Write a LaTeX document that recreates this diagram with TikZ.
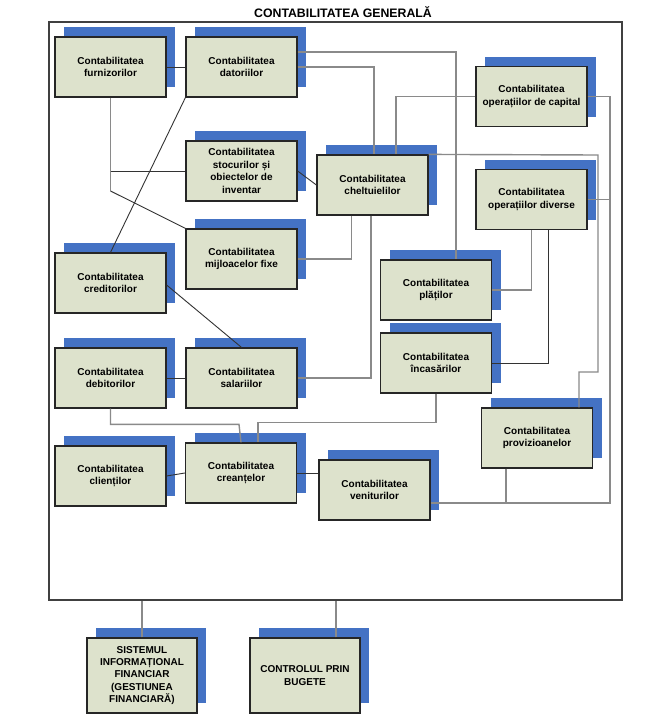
\documentclass[tikz,border=0pt]{standalone}
\usepackage{fontspec}
\setmainfont{Liberation Sans}
\usetikzlibrary{shadows,calc}
\definecolor{boxfill}{HTML}{DDE2CC}
\definecolor{shblue}{HTML}{4472C4}
\definecolor{dkline}{HTML}{333333}
\definecolor{gyline}{HTML}{8A8A8A}
\begin{document}
\begin{tikzpicture}[x=1pt,y=-1pt,
  cbox/.style={draw=black!85,line width=1.2pt,fill=boxfill,
    minimum width=111pt,minimum height=60pt,inner sep=1pt,align=center,
    font=\fontsize{10}{12.4}\selectfont\bfseries,
    drop shadow={shadow xshift=9pt,shadow yshift=10pt,fill=shblue,opacity=1}},
  bbox/.style={cbox,minimum width=110pt,minimum height=75pt},
  dk/.style={draw=dkline,line width=0.9pt},
  gy/.style={draw=gyline,line width=1.4pt},
  frm/.style={draw=black!75,line width=1.2pt,minimum width=573pt,minimum height=578pt,inner sep=0pt}
]
\useasboundingbox (0,0) rectangle (660,718);
\fill[white] (0,0) rectangle (660,718);

\node[font=\fontsize{12.3}{14}\selectfont\bfseries] (title) at (343,12) {CONTABILITATEA GENERALĂ};
\node[frm] (frame) at (335.5,311) {};

\node[cbox] (furn) at (110.5,67) {Contabilitatea\\furnizorilor};
\node[cbox] (dator) at (241.5,67) {Contabilitatea\\datoriilor};
\node[cbox] (stoc) at (241.5,171) {Contabilitatea\\stocurilor și\\obiectelor de\\inventar};
\node[cbox] (chelt) at (372.5,185) {Contabilitatea\\cheltuielilor};
\node[cbox] (cap) at (531.5,96.5) {Contabilitatea\\operațiilor de capital};
\node[cbox] (div) at (531.5,199.5) {Contabilitatea\\operațiilor diverse};
\node[cbox] (mij) at (241.5,259) {Contabilitatea\\mijloacelor fixe};
\node[cbox] (cred) at (110.5,283) {Contabilitatea\\creditorilor};
\node[cbox] (deb) at (110.5,378) {Contabilitatea\\debitorilor};
\node[cbox] (sal) at (241.5,378) {Contabilitatea\\salariilor};
\node[cbox] (plati) at (436,290) {Contabilitatea\\plăților};
\node[cbox] (inc) at (436,363) {Contabilitatea\\încasărilor};
\node[cbox] (prov) at (537,438) {Contabilitatea\\provizioanelor};
\node[cbox] (ven) at (374.5,490) {Contabilitatea\\veniturilor};
\node[cbox] (cli) at (110.5,476) {Contabilitatea\\clienților};
\node[cbox] (cre) at (241,473) {Contabilitatea\\creanțelor};
\node[bbox] (sys) at (142,675.5) {SISTEMUL\\INFORMAȚIONAL\\FINANCIAR\\(GESTIUNEA\\FINANCIARĂ)};
\node[bbox] (ctl) at (305,675.5) {CONTROLUL PRIN\\BUGETE};

% junction coordinates
\coordinate (fb) at (110.5,191);
\coordinate (rtop) at (610,96.5);
\coordinate (rbot) at (610,503);
\coordinate (pb) at (598,155);
\coordinate (pv) at (579,372);

% connectors
\draw[dk] (furn.east) -- (dator.west);
\draw[gy] ([yshift=15pt]dator.east) -| ([xshift=20pt]plati.north);
\draw[gy] (dator.east) -| ([xshift=1.5pt]chelt.north);
\draw[gy] (furn.south) -- (fb);
\draw[dk] (furn.south |- stoc.west) -- (stoc.west);
\draw[dk] (fb) -- (mij.north west);
\draw[dk] (dator.south west) -- (cred.north);
\draw[dk] (stoc.east) -- (chelt.west);
\draw[gy] ([xshift=-21pt]chelt.south) |- (mij.east);
\draw[gy] ([xshift=-1.5pt]chelt.south) |- (sal.east);
\draw[gy] (cap.west) -| ([xshift=23.5pt]chelt.north);
\draw[gy] (cap.east) -- (rtop) -- (rbot) -- (rbot -| ven.east);
\draw[gy] (div.east) -- (div.east -| rtop);
\draw[gy] (chelt.north east) -- (pb) |- (pv) -- (pv |- prov.north);
\draw[gy] (div.south) |- (plati.east);
\draw[dk] ([xshift=17pt]div.south) |- (inc.east);
\draw[gy] (inc.south) |- ([xshift=17pt,yshift=20pt]cre.north) -- ([xshift=17pt]cre.north);
\draw[gy] (deb.south) |- ([xshift=-2pt,yshift=18pt]cre.north) -- (cre.north);
\draw[dk] ([yshift=-2pt]cred.east) -- (sal.north);
\draw[dk] (deb.east) -- (sal.west);
\draw[dk] (cli.east) -- (cre.west);
\draw[dk] (cre.east) -- (cre.east -| ven.west);
\draw[gy] ([xshift=-31pt]prov.south) -- ([xshift=-31pt]prov.south |- rbot);
\draw[gy] (sys.north) -- (sys.north |- frame.south);
\draw[gy] ([xshift=31pt]ctl.north) -- ([xshift=31pt]ctl.north |- frame.south);
\end{tikzpicture}
\end{document}
